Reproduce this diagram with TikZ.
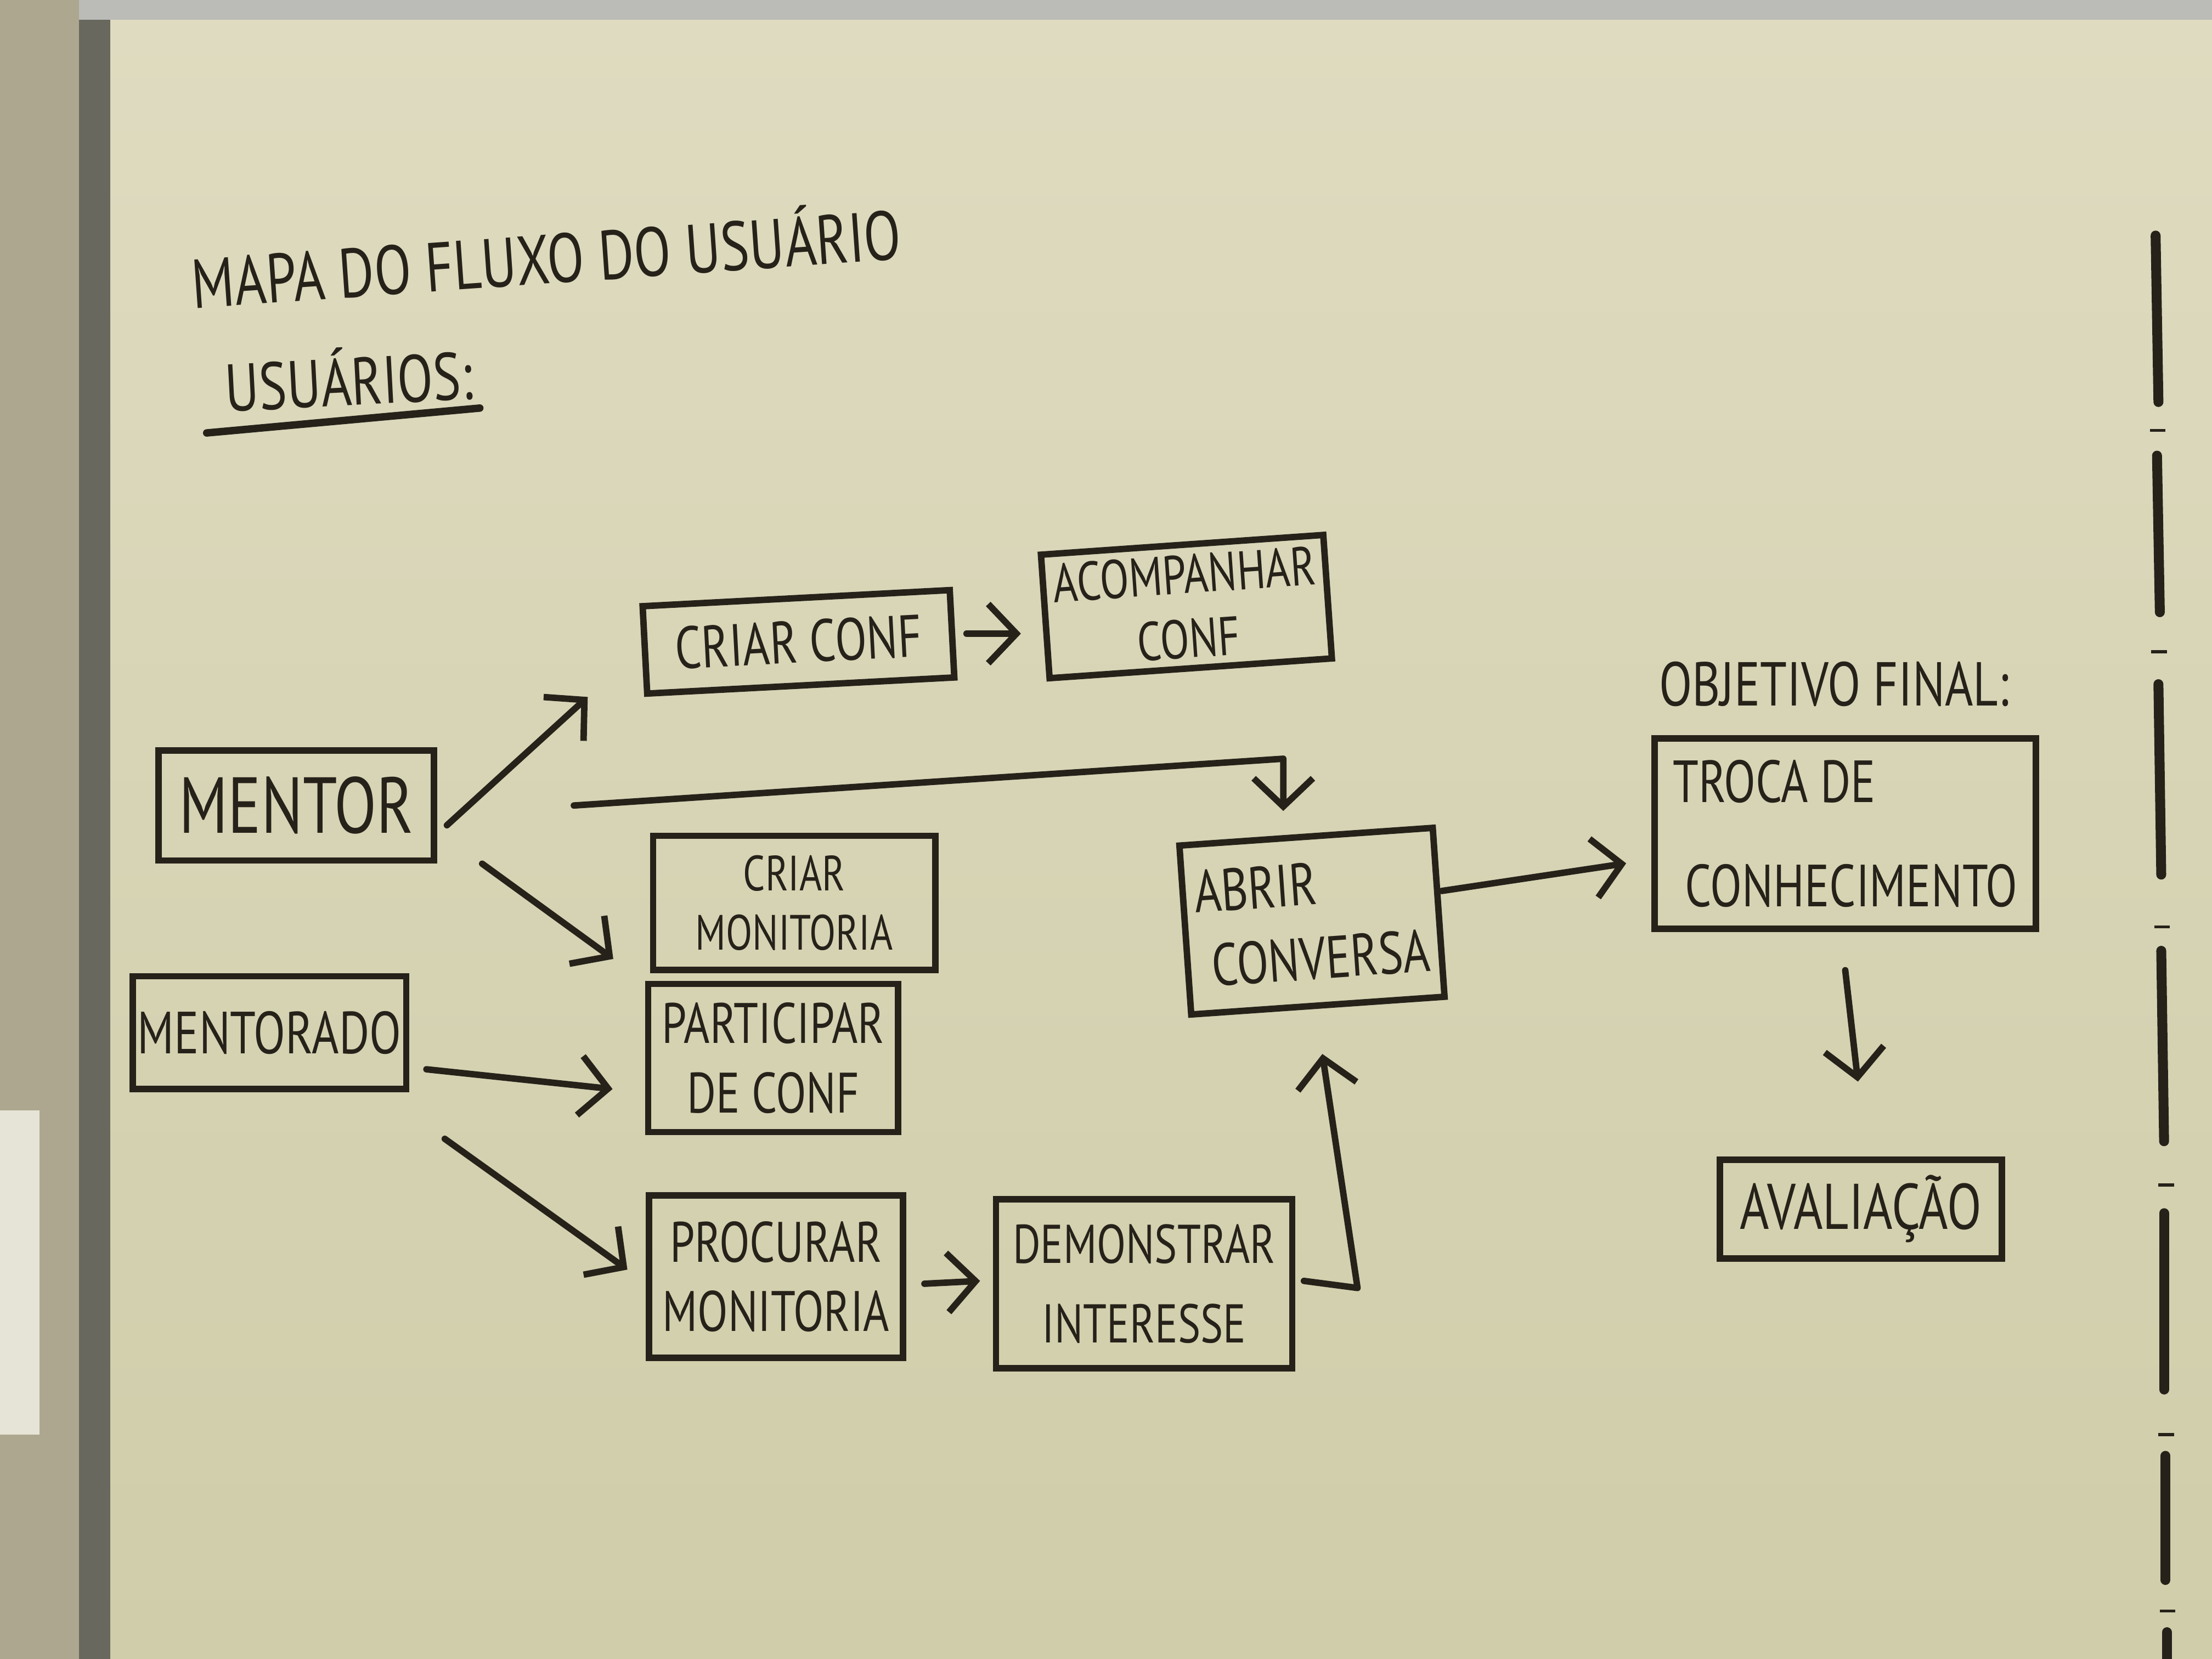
\documentclass[tikz,border=0pt]{standalone}
\usepackage{fontspec}
\setmainfont{PT Sans}[FakeStretch=0.78]
\usetikzlibrary{arrows.meta, positioning}
\definecolor{boardtop}{RGB}{222,219,192}
\definecolor{boardbot}{RGB}{208,205,170}
\definecolor{ink}{RGB}{38,34,26}
\definecolor{wall}{RGB}{172,167,142}
\definecolor{frame}{RGB}{104,104,94}
\definecolor{note}{RGB}{230,228,214}

\tikzset{
    card/.style={draw=ink, line width=1.3pt, align=center, inner sep=2pt, text=ink,
        font=\fontsize{11.5}{14}\selectfont},
    heading/.style={text=ink, inner sep=1pt},
    arr/.style={draw=ink, line width=1.3pt, line cap=round, line join=round,
        -{Straight Barb[length=2mm,width=4.2mm]}},
    marker/.style={draw=ink, line width=2pt, line cap=round}
}

\begin{document}
\begin{tikzpicture}
    \useasboundingbox (0,0) rectangle (15.68,11.76);

    % Board, frame and wall
    \shade[top color=boardtop, bottom color=boardbot] (0.78,0) rectangle (15.68,11.62);
    \fill[wall] (0,0) rectangle (0.56,11.76);
    \fill[note] (0,1.59) rectangle (0.28,3.89);
    \fill[frame] (0.56,0) rectangle (0.78,11.76);
    \fill[frame!45] (0.56,11.62) rectangle (15.68,11.76);

    % Headings
    \node[heading, rotate=4, font=\fontsize{14}{16}\selectfont] (title) at (3.87,9.96) {MAPA DO FLUXO DO USUÁRIO};
    \node[heading, rotate=3, font=\fontsize{13.5}{16}\selectfont] (usuarios) at (2.47,9.09) {USUÁRIOS:};
    \draw[ink, line width=1.5pt, line cap=round] ([xshift=-0.1cm,yshift=-0.1cm]usuarios.south west) -- ([yshift=-0.02cm]usuarios.south east);
    \node[heading, font=\fontsize{12.5}{14}\selectfont] (objetivo) at (13.0,6.91) {OBJETIVO FINAL:};

    % Users
    \node[card, minimum width=1.95cm, minimum height=0.78cm, font=\fontsize{16}{18}\selectfont] (mentor) at (2.10,6.05) {MENTOR};
    \node[card, minimum width=1.93cm, minimum height=0.80cm, inner sep=1pt, font=\fontsize{12}{15}\selectfont] (mentorado) at (1.91,4.44) {MENTORADO};

    % Actions
    \node[card, minimum width=2.18cm, minimum height=0.62cm, rotate=3, font=\fontsize{12}{14}\selectfont] (criarconf) at (5.66,7.21) {CRIAR CONF};
    \node[card, minimum width=1.95cm, minimum height=0.80cm, rotate=4, font=\fontsize{11}{13}\selectfont] (acomp) at (8.41,7.46) {ACOMPANHAR\\CONF};
    \node[card, minimum width=2.00cm, minimum height=0.95cm, font=\fontsize{10}{12}\selectfont] (criarmon) at (5.63,5.36) {CRIAR\\MONITORIA};
    \node[card, minimum width=1.77cm, minimum height=1.05cm] (particip) at (5.48,4.26) {PARTICIPAR\\DE CONF};
    \node[card, minimum width=1.80cm, minimum height=1.15cm] (procurar) at (5.50,2.71) {PROCURAR\\MONITORIA};
    \node[card, minimum width=2.10cm, minimum height=1.20cm, font=\fontsize{11}{16}\selectfont] (demonstr) at (8.11,2.66) {DEMONSTRAR\\INTERESSE};
    \node[card, minimum width=1.80cm, minimum height=1.20cm, rotate=4, align=left, font=\fontsize{12}{15}\selectfont] (abrir) at (9.30,5.23) {ABRIR\\\ CONVERSA};

    % Goal
    \node[card, minimum width=2.70cm, minimum height=1.35cm, align=left, font=\fontsize{12}{21}\selectfont] (troca) at (13.08,5.85) {TROCA DE\\\ CONHECIMENTO};
    \node[card, minimum width=2.00cm, minimum height=0.70cm, font=\fontsize{13}{15}\selectfont] (avaliacao) at (13.19,3.19) {AVALIAÇÃO};

    % Arrows
    \draw[arr] ([xshift=2pt,yshift=-0.14cm]mentor.east) -- ([xshift=-0.4cm]criarconf.south west);
    \draw[arr] ([xshift=0.32cm]mentor.south east) -- ([xshift=-0.26cm,yshift=0.1cm]criarmon.south west);
    \draw[arr] ([xshift=0.97cm]mentor.east) -- ([xshift=-0.16cm,yshift=0.53cm]abrir.north) -- ([xshift=-0.16cm,yshift=0.16cm]abrir.north);
    \draw[arr] ([xshift=0.08cm]criarconf.east) -- ([xshift=-0.15cm]criarconf.east -| acomp.west);
    \draw[arr] ([xshift=0.12cm,yshift=-0.26cm]mentorado.east) -- ([xshift=-0.23cm,yshift=-0.22cm]particip.west);
    \draw[arr] ([xshift=0.25cm,yshift=-0.33cm]mentorado.south east) -- ([xshift=-0.13cm,yshift=0.05cm]procurar.west);
    \draw[arr] ([xshift=0.13cm,yshift=-0.05cm]procurar.east) -- ([xshift=-0.09cm,yshift=0.02cm]demonstr.west);
    \draw[arr] ([xshift=0.06cm,yshift=0.02cm]demonstr.east) -- ([xshift=0.44cm,yshift=-0.03cm]demonstr.east) -- ([xshift=0.03cm,yshift=-0.32cm]abrir.south);
    \draw[arr] ([yshift=0.15cm]abrir.east) -- ([xshift=-0.18cm,yshift=-0.21cm]troca.west);
    \draw[arr] ([yshift=-0.27cm]troca.south) -- ([xshift=-0.02cm,yshift=0.53cm]avaliacao.north);

    % Divider on the right
    \foreach \xa/\ya/\xb/\yb in {15.28/10.09/15.30/8.91, 15.29/8.53/15.31/7.42, 15.30/6.91/15.32/5.56,
        15.32/5.02/15.34/3.67, 15.34/3.16/15.34/1.91, 15.35/1.44/15.35/0.56, 15.36/0.19/15.36/0}
        \draw[marker] (\xa,\ya) -- (\xb,\yb);
    \foreach \xa/\y in {15.24/8.71, 15.25/7.14, 15.27/5.19, 15.30/3.36, 15.30/1.59, 15.31/0.34}
        \draw[ink, line width=0.6pt] (\xa,\y) -- ++(0.11,0);
\end{tikzpicture}
\end{document}
